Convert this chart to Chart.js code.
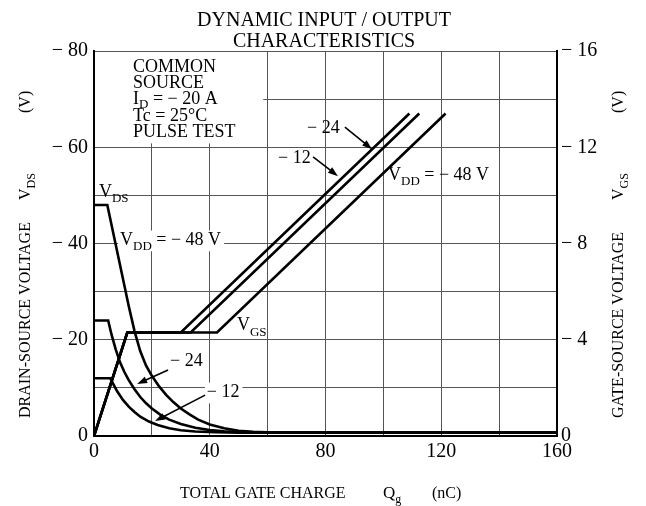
<!DOCTYPE html>
<html>
<head>
<meta charset="utf-8">
<script src="https://cdn.jsdelivr.net/npm/chart.js@4/dist/chart.umd.min.js"></script>
<style>
  body { margin: 0; background: #fff; }
</style>
</head>
<body>
<canvas id="myChart" width="646" height="506"></canvas>
<script>
// gate charge (nC) / drain-source voltage (V), one pair per V_DD
const qDs48 = [0, 4.6, 12, 14, 16, 18, 20, 22.5, 25, 27.5, 30, 33, 36, 40, 45, 50, 55, 60, 160];
const vDs48 = [-48, -48, -27, -21.8, -17.6, -14.6, -12.5, -10.3, -8.5, -7, -5.7, -4.5, -3.4, -2.4, -1.6, -1.1, -0.85, -0.75, -0.7];
const qDs24 = [0, 4.9, 6, 7.5, 9, 10.5, 12, 14, 16, 18, 20, 23, 26, 30, 35, 40, 45, 52, 60, 160];
const vDs24 = [-24, -24, -21.2, -18, -15.3, -13.3, -11.6, -9.7, -8.1, -6.8, -5.7, -4.4, -3.4, -2.5, -1.7, -1.25, -1, -0.8, -0.7, -0.7];
const qDs12 = [0, 5.6, 6.5, 8, 10, 12, 14, 16, 19, 22, 26, 30, 35, 42, 50, 160];
const vDs12 = [-12, -12, -11, -9.3, -7.5, -6.1, -5, -4, -3, -2.3, -1.6, -1.2, -0.95, -0.8, -0.7, -0.7];

// gate-source voltage (V)
const qGs12 = [0, 11.5, 30, 109];
const vGs12 = [0, -4.3, -4.3, -13.4];
const qGs24 = [0, 11.5, 33.4, 112.4];
const vGs24 = [0, -4.3, -4.3, -13.4];
const qGs48 = [0, 11.5, 42.5, 121.5];
const vGs48 = [0, -4.3, -4.3, -13.4];

const xTicks = [0, 40, 80, 120, 160];
const yTicks = [0, -20, -40, -60, -80];
const y2Ticks = [0, -4, -8, -12, -16];

const SERIF = '"Liberation Serif", "DejaVu Serif", serif';

function pts(q, v) {
  return q.map((x, i) => ({ x: x, y: v[i] }));
}

function minusFmt(v) {
  return v === 0 ? '0' : '\u2212 ' + Math.abs(v);
}

function lineSet(q, v, axis) {
  return {
    data: pts(q, v),
    yAxisID: axis,
    borderColor: '#000',
    borderWidth: 2.6,
    pointRadius: 0,
    fill: false,
    tension: 0,
  };
}

// text with subscripts: parts = [[text, isSub], ...]
function richText(ctx, x, y, parts, size, bg, subDrop) {
  const sub = Math.round(size * 0.72);
  const drop = size * (subDrop || 0.3);
  let w = 0;
  parts.forEach((p) => {
    ctx.font = (p[1] ? sub : size) + 'px ' + SERIF;
    w += ctx.measureText(p[0]).width;
  });
  if (bg) {
    ctx.fillStyle = '#fff';
    ctx.fillRect(x - 2, y - size * 0.8, w + 5, size * 1.15);
  }
  ctx.fillStyle = '#000';
  ctx.textBaseline = 'alphabetic';
  ctx.textAlign = 'left';
  let cx = x;
  parts.forEach((p) => {
    ctx.font = (p[1] ? sub : size) + 'px ' + SERIF;
    ctx.fillText(p[0], cx, p[1] ? y + drop : y);
    cx += ctx.measureText(p[0]).width;
  });
}

function arrow(ctx, x1, y1, x2, y2) {
  const a = Math.atan2(y2 - y1, x2 - x1);
  ctx.strokeStyle = '#000';
  ctx.lineWidth = 1.6;
  ctx.beginPath();
  ctx.moveTo(x1, y1);
  ctx.lineTo(x2 - 6 * Math.cos(a), y2 - 6 * Math.sin(a));
  ctx.stroke();
  ctx.fillStyle = '#000';
  ctx.beginPath();
  ctx.moveTo(x2, y2);
  ctx.lineTo(x2 - 10 * Math.cos(a) + 3.5 * Math.sin(a), y2 - 10 * Math.sin(a) - 3.5 * Math.cos(a));
  ctx.lineTo(x2 - 10 * Math.cos(a) - 3.5 * Math.sin(a), y2 - 10 * Math.sin(a) + 3.5 * Math.cos(a));
  ctx.closePath();
  ctx.fill();
}

const notes = {
  id: 'notes',
  beforeDatasetsDraw(chart) {
    const ctx = chart.ctx;
    const sx = chart.scales.x, sy = chart.scales.y;
    const P = (q, v) => [sx.getPixelForValue(q), sy.getPixelForValue(v)];
    ctx.save();
    // white panel behind the test conditions
    const a = P(0, -80), b = P(58.5, -60.8);
    ctx.fillStyle = '#fff';
    ctx.fillRect(a[0] + 1, a[1] + 1, b[0] - a[0] - 1, b[1] - a[1] - 1);
    // labels sitting on grid lines
    let p = P(9, -39.7);
    richText(ctx, p[0], p[1], [['V', 0], ['DD', 1], [' = \u2212 48 V', 0]], 18, true);
    p = P(26.3, -14.5);
    richText(ctx, p[0], p[1], [['\u2212 24', 0]], 18, true);
    p = P(39, -8.1);
    richText(ctx, p[0], p[1], [['\u2212 12', 0]], 18, true);
    ctx.restore();
  },
  afterDatasetsDraw(chart) {
    const ctx = chart.ctx;
    const sx = chart.scales.x, sy = chart.scales.y;
    const P = (q, v) => [sx.getPixelForValue(q), sy.getPixelForValue(v)];
    ctx.save();
    let p = P(13.5, -75.6);
    richText(ctx, p[0], p[1], [['COMMON', 0]], 18);
    p = P(13.5, -72.3);
    richText(ctx, p[0], p[1], [['SOURCE', 0]], 18);
    p = P(13.5, -69.0);
    richText(ctx, p[0], p[1], [['I', 0], ['D', 1], [' = \u2212 20 A', 0]], 18, false, 0.2);
    p = P(13.5, -65.5);
    richText(ctx, p[0], p[1], [['Tc = 25\u00b0C', 0]], 18);
    p = P(13.5, -62.1);
    richText(ctx, p[0], p[1], [['PULSE TEST', 0]], 18);

    p = P(1.7, -49.7);
    richText(ctx, p[0], p[1], [['V', 0], ['DS', 1]], 18);
    p = P(49.4, -22);
    richText(ctx, p[0], p[1], [['V', 0], ['GS', 1]], 18);
    p = P(101.6, -53.2);
    richText(ctx, p[0], p[1], [['V', 0], ['DD', 1], [' = \u2212 48 V', 0]], 18);
    p = P(73.6, -63);
    richText(ctx, p[0], p[1], [['\u2212 24', 0]], 18);
    p = P(63.6, -56.7);
    richText(ctx, p[0], p[1], [['\u2212 12', 0]], 18);

    let f = P(25.6, -13.7), t = P(14.9, -10.8);
    arrow(ctx, f[0], f[1], t[0], t[1]);
    f = P(38.4, -8.5); t = P(21.1, -3.1);
    arrow(ctx, f[0], f[1], t[0], t[1]);
    f = P(86.7, -64.2); t = P(96.1, -59.6);
    arrow(ctx, f[0], f[1], t[0], t[1]);
    f = P(75.7, -58); t = P(84.3, -54);
    arrow(ctx, f[0], f[1], t[0], t[1]);

    // title
    ctx.fillStyle = '#000';
    ctx.textAlign = 'center';
    ctx.font = '20px ' + SERIF;
    ctx.fillText('DYNAMIC INPUT / OUTPUT', 324, 26);
    ctx.fillText('CHARACTERISTICS', 324, 47);

    // x axis title
    richText(ctx, 180, 498, [['TOTAL GATE CHARGE', 0]], 16);
    richText(ctx, 383, 498, [['Q', 0], ['g', 1]], 17);
    richText(ctx, 432, 498, [['(nC)', 0]], 16);

    // left axis title, reads bottom to top
    ctx.translate(30, 0);
    ctx.rotate(-Math.PI / 2);
    richText(ctx, -418, 0, [['DRAIN-SOURCE VOLTAGE', 0]], 16);
    richText(ctx, -200, 0, [['V', 0], ['DS', 1]], 16);
    richText(ctx, -113, 0, [['(V)', 0]], 16);
    ctx.restore();

    ctx.save();
    ctx.translate(623, 0);
    ctx.rotate(-Math.PI / 2);
    richText(ctx, -418, 0, [['GATE-SOURCE VOLTAGE', 0]], 16);
    richText(ctx, -200, 0, [['V', 0], ['GS', 1]], 16);
    richText(ctx, -113, 0, [['(V)', 0]], 16);
    ctx.restore();
  },
};

new Chart(document.getElementById('myChart'), {
  type: 'line',
  data: {
    datasets: [
      lineSet(qDs48, vDs48, 'y'),
      lineSet(qDs24, vDs24, 'y'),
      lineSet(qDs12, vDs12, 'y'),
      lineSet(qGs12, vGs12, 'y2'),
      lineSet(qGs24, vGs24, 'y2'),
      lineSet(qGs48, vGs48, 'y2'),
    ],
  },
  options: {
    responsive: false,
    animation: false,
    layout: { padding: { top: 51, left: 0, right: 0, bottom: 0 } },
    plugins: { legend: { display: false }, tooltip: { enabled: false }, title: { display: false } },
    scales: {
      x: {
        type: 'linear',
        min: 0,
        max: 160,
        afterFit: (s) => { s.height = 70; },
        ticks: {
          stepSize: 20,
          autoSkip: false,
          maxRotation: 0,
          padding: 4,
          color: '#000',
          font: { family: SERIF, size: 20 },
          callback: (v) => (xTicks.includes(v) ? String(v) : ''),
        },
        grid: { color: '#555', lineWidth: 1, drawTicks: false },
        border: { color: '#000', width: 2 },
      },
      y: {
        position: 'left',
        min: -80,
        max: 0,
        reverse: true,
        afterFit: (s) => { s.width = 94; },
        ticks: {
          stepSize: 10,
          autoSkip: false,
          padding: 6,
          color: '#000',
          font: { family: SERIF, size: 20 },
          callback: (v) => (yTicks.includes(v) ? minusFmt(v) : ''),
        },
        grid: { color: '#555', lineWidth: 1, drawTicks: false },
        border: { color: '#000', width: 2 },
      },
      y2: {
        position: 'right',
        min: -16,
        max: 0,
        reverse: true,
        afterFit: (s) => { s.width = 89; },
        ticks: {
          stepSize: 2,
          autoSkip: false,
          padding: 4,
          color: '#000',
          font: { family: SERIF, size: 20 },
          callback: (v) => (y2Ticks.includes(v) ? minusFmt(v) : ''),
        },
        grid: { display: false, drawTicks: false },
        border: { color: '#000', width: 2 },
      },
    },
  },
  plugins: [notes],
});
</script>
</body>
</html>
